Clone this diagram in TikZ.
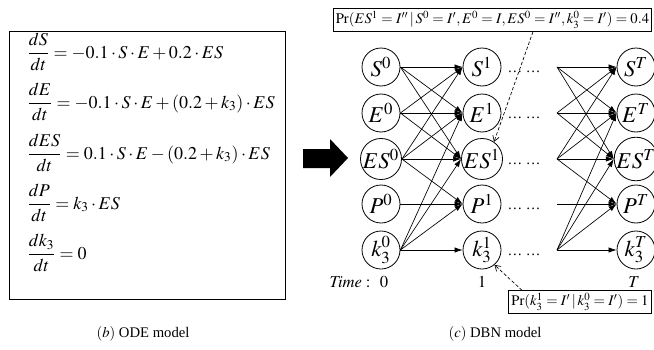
\documentclass[tikz,border=0pt]{standalone}
\usepackage{amsmath}
\usepackage{mathptmx}
\usepackage{fontspec}
\setmainfont{Liberation Serif}
\usetikzlibrary{arrows.meta}

\tikzset{
	state/.style={circle, draw, line width=0.6pt, minimum size=28.5pt, inner sep=0pt, font=\fontsize{17}{19}\selectfont},
	eqn/.style={anchor=base west, inner sep=0pt, font=\fontsize{13.5}{16}\selectfont},
	probbox/.style={draw, line width=0.6pt, inner sep=2pt, font=\fontsize{11}{13}\selectfont},
	link/.style={-{Latex[length=6pt,width=4pt]}, line width=0.5pt},
	note/.style={-{Straight Barb[length=4pt,width=5pt]}, dash pattern=on 2.5pt off 1.5pt, line width=0.5pt},
	dots/.style={anchor=base, inner sep=0pt, font=\fontsize{11}{13}\selectfont},
	timelab/.style={anchor=base, inner sep=1pt, font=\fontsize{12.5}{14}\selectfont}
}

\begin{document}
\begin{tikzpicture}[x=0.75pt, y=-0.75pt]
	\useasboundingbox (0,0) rectangle (654,350);

	\draw[line width=0.7pt] (9,31) rectangle (285,299);
	\node[eqn] (eq1) at (27,58) {$\dfrac{dS}{dt} = -0.1\cdot S\cdot E + 0.2\cdot ES$};
	\node[eqn] (eq2) at (27,108) {$\dfrac{dE}{dt} = -0.1\cdot S\cdot E + (0.2 + k_3)\cdot ES$};
	\node[eqn] (eq3) at (27,159) {$\dfrac{dES}{dt} = 0.1\cdot S\cdot E - (0.2 + k_3)\cdot ES$};
	\node[eqn] (eq4) at (27,209) {$\dfrac{dP}{dt} = k_3\cdot ES$};
	\node[eqn] (eq5) at (27,259) {$\dfrac{dk_3}{dt} = 0$};

	\fill (303,149) -- (330,149) -- (330,139) -- (348,158) -- (330,177) -- (330,168) -- (303,168) -- cycle;

	\node[state] (S0) at (381,67) {$S^0$};
	\node[state] (E0) at (381,113) {$E^0$};
	\node[state] (ES0) at (381,159) {$ES^0$};
	\node[state] (P0) at (381,204) {$P^0$};
	\node[state] (k0) at (381,250) {$k_3^0$};

	\node[state] (S1) at (482,67) {$S^1$};
	\node[state] (E1) at (482,113) {$E^1$};
	\node[state] (ES1) at (482,159) {$ES^1$};
	\node[state] (P1) at (482,204) {$P^1$};
	\node[state] (k1) at (482,250) {$k_3^1$};

	\node[state] (ST) at (636,67) {$S^T$};
	\node[state] (ET) at (636,113) {$E^T$};
	\node[state] (EST) at (636,159) {$ES^T$};
	\node[state] (PT) at (636,204) {$P^T$};
	\node[state] (kT) at (636,250) {$k_3^T$};

	\node[dots] (d1) at (524,72) {\dots\ \dots};
	\node[dots] (d2) at (524,118) {\dots\ \dots};
	\node[dots] (d3) at (524,164) {\dots\ \dots};
	\node[dots] (d4) at (524,209) {\dots\ \dots};
	\node[dots] (d5) at (524,255) {\dots\ \dots};

	\coordinate (fS) at (557,67);
	\coordinate (fE) at (557,113);
	\coordinate (fES) at (557,159);
	\coordinate (fP) at (557,204);
	\coordinate (fk) at (557,250);

	\path (S0.east) edge[link] (S1.west) edge[link] (E1.west) edge[link] (ES1.west);
	\path (E0.east) edge[link] (S1.west) edge[link] (E1.west) edge[link] (ES1.west);
	\path (ES0.east) edge[link] (S1.west) edge[link] (E1.west) edge[link] (ES1.west) edge[link] (P1.west);
	\path (P0.east) edge[link] (P1.west);
	\path (k0.east) edge[link] (E1.west) edge[link] (ES1.west) edge[link] (P1.west) edge[link] (k1.west);

	\path (fS) edge[link] (ST.west) edge[link] (ET.west) edge[link] (EST.west);
	\path (fE) edge[link] (ST.west) edge[link] (ET.west) edge[link] (EST.west);
	\path (fES) edge[link] (ST.west) edge[link] (ET.west) edge[link] (EST.west) edge[link] (PT.west);
	\path (fP) edge[link] (PT.west);
	\path (fk) edge[link] (ET.west) edge[link] (EST.west) edge[link] (PT.west) edge[link] (kT.west);

	\node[timelab] (t0) at (384,287) {$0$};
	\node[timelab, anchor=base east] (tlab) at (372,287) {$\mathit{Time}:$};
	\node[timelab] (t1) at (482,287) {$1$};
	\node[timelab] (tT) at (634,287) {$T$};

	\node[probbox] (pr1) at (492.5,20) {$\Pr(ES^1 = I''\,|\,S^0 = I', E^0 = I, ES^0 = I'', k_3^0 = I') = 0.4$};
	\node[probbox] (pr2) at (580,302) {$\Pr(k_3^1 = I'\,|\,k_3^0 = I') = 1$};
	\draw[note] (pr1.south -| 533,0) -- (ES1.55);
	\draw[note] (pr2.north -| 522,0) -- (k1.-50);

	\node[font=\fontsize{11}{13}\selectfont] (capb) at (143,334) {$(b)$ ODE model};
	\node[font=\fontsize{11}{13}\selectfont] (capc) at (495,334) {$(c)$ DBN model};
\end{tikzpicture}
\end{document}
